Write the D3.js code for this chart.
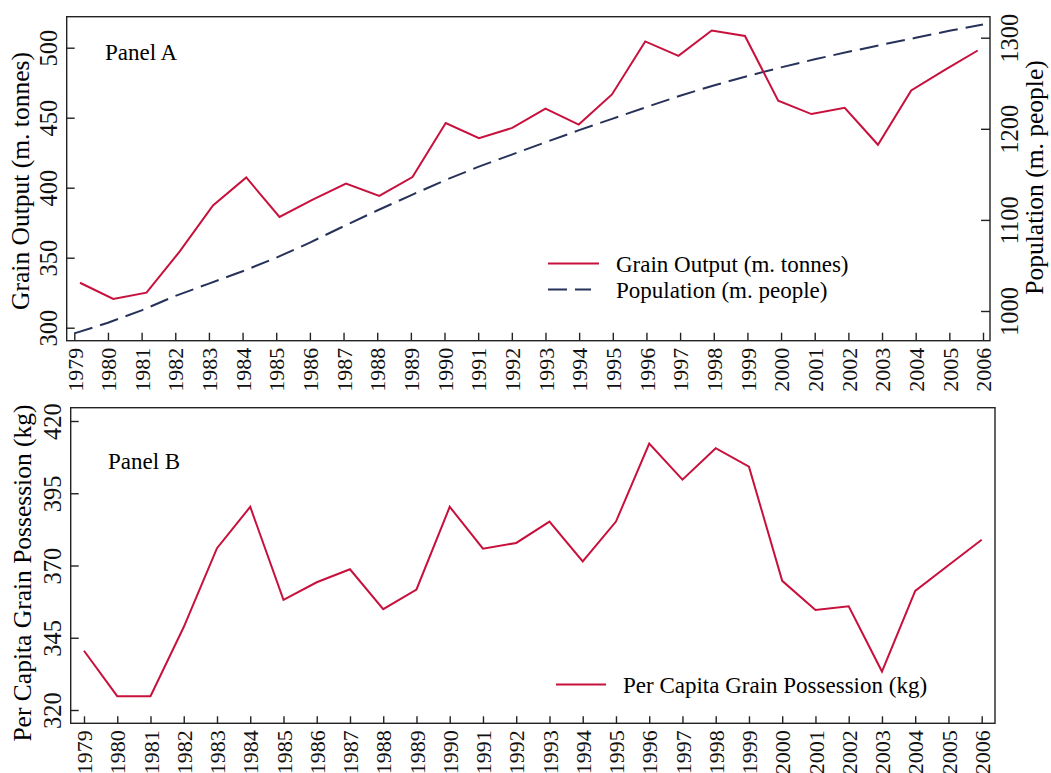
<!DOCTYPE html>
<html>
<head>
<meta charset="utf-8">
<script src="https://cdn.jsdelivr.net/npm/d3@7"></script>
<style>
  body { margin: 0; background: #fff; }
  svg { font-family: "Liberation Serif", "Times New Roman", serif; }
</style>
</head>
<body>
<div id="chart"></div>
<script>
var width = 1051, height = 773;

// data
var years = [1979,1980,1981,1982,1983,1984,1985,1986,1987,1988,1989,1990,1991,1992,
             1993,1994,1995,1996,1997,1998,1999,2000,2001,2002,2003,2004,2005,2006];
var grainOutput = [332.1,320.6,325.0,354.5,387.3,407.3,379.1,391.5,403.0,394.1,407.6,446.2,435.3,442.7,
                   456.5,445.1,466.6,504.5,494.2,512.3,508.4,462.2,452.6,457.1,430.7,469.5,484.0,498.0];
var population = [975.4,987.1,1000.7,1016.5,1030.1,1043.6,1058.5,1075.1,1093.0,1110.3,1127.0,1143.3,1158.2,1171.7,
                  1185.2,1198.5,1211.2,1223.9,1236.3,1247.6,1257.9,1267.4,1276.3,1284.5,1292.3,1299.9,1307.6,1314.5];
var perCapita = [340.5,324.8,324.8,348.7,376.0,390.3,358.1,364.2,368.7,354.9,361.7,390.3,375.8,377.8,
                 385.2,371.4,385.2,412.2,399.7,410.6,404.2,364.7,354.6,355.9,333.3,361.2,370.1,378.9];
var grainTicks = [300,350,400,450,500];
var popTicks = [1000,1100,1200,1300];
var perCapitaTicks = [320,345,370,395,420];

var red = "#c8103c", navy = "#26325a";

var svg = d3.select("#chart").append("svg")
    .attr("width", width).attr("height", height);

// ---------- Panel A ----------
var a = {left: 66.7, right: 990, top: 16.7, bottom: 340.7};

var xA = d3.scaleLinear().domain([1979, 2006]).range([74.3, 983]);
var xGrain = d3.scaleLinear().domain([1979, 2006]).range([80, 977.7]);
var yGrain = d3.scaleLinear().domain([300, 500]).range([327.7, 47.7]);
var yPop = d3.scaleLinear().domain([1000, 1300]).range([311, 37.7]);

svg.append("rect")
    .attr("x", a.left).attr("y", a.top)
    .attr("width", a.right - a.left).attr("height", a.bottom - a.top)
    .attr("fill", "none").attr("stroke", "#222").attr("stroke-width", 1.4);

function styleAxis(g) {
  g.select(".domain").remove();
  g.selectAll(".tick line").attr("stroke", "#222").attr("stroke-width", 1.4);
}

function yLabels(offset) {
  return g => g.selectAll(".tick text")
      .attr("x", 0).attr("y", offset).attr("dy", 0)
      .attr("transform", "rotate(-90)")
      .attr("text-anchor", "middle")
      .attr("font-size", 24.5).attr("fill", "#111")
      .attr("font-family", "Liberation Serif");
}

// left axis
svg.append("g")
    .attr("transform", "translate(" + a.left + ",0)")
    .call(d3.axisLeft(yGrain).tickValues(grainTicks).tickFormat(d3.format("d")).tickSize(-8))
    .call(styleAxis)
    .call(yLabels(-9.5));

// right axis
svg.append("g")
    .attr("transform", "translate(" + a.right + ",0)")
    .call(d3.axisRight(yPop).tickValues(popTicks).tickFormat(d3.format("d")).tickSize(-9))
    .call(styleAxis)
    .call(yLabels(27.5));

function yearAxis(g) {
  g.call(styleAxis);
  g.selectAll(".tick text")
      .attr("x", -7).attr("y", 0).attr("dy", "0.35em")
      .attr("transform", "rotate(-90)")
      .attr("text-anchor", "end")
      .attr("font-size", 22).attr("fill", "#111")
      .attr("font-family", "Liberation Serif");
}

svg.append("g")
    .attr("transform", "translate(0," + a.bottom + ")")
    .call(d3.axisBottom(xA).tickValues(years).tickFormat(d3.format("d")).tickSize(-8))
    .call(yearAxis);

// lines
var grainLine = d3.line()
    .x((d, i) => xGrain(years[i]))
    .y(d => yGrain(d));
var popLine = d3.line()
    .x((d, i) => xA(years[i]))
    .y(d => yPop(d));

svg.append("path").datum(population)
    .attr("d", popLine).attr("fill", "none")
    .attr("stroke", navy).attr("stroke-width", 2)
    .attr("stroke-dasharray", "19,8");

svg.append("path").datum(grainOutput)
    .attr("d", grainLine).attr("fill", "none")
    .attr("stroke", red).attr("stroke-width", 2);

svg.append("text").attr("x", 105).attr("y", 60)
    .attr("font-size", 23).text("Panel A");

// axis titles
svg.append("text")
    .attr("transform", "translate(29,181) rotate(-90)")
    .attr("text-anchor", "middle").attr("font-size", 25.5)
    .text("Grain Output (m. tonnes)");
svg.append("text")
    .attr("transform", "translate(1043,177.5) rotate(-90)")
    .attr("text-anchor", "middle").attr("font-size", 25.5)
    .text("Population (m. people)");

// legend A
var legA = svg.append("g");
legA.append("line").attr("x1", 548).attr("x2", 599).attr("y1", 263.5).attr("y2", 263.5)
    .attr("stroke", red).attr("stroke-width", 2);
legA.append("text").attr("x", 616).attr("y", 271.5).attr("font-size", 23)
    .text("Grain Output (m. tonnes)");
legA.append("line").attr("x1", 548).attr("x2", 591).attr("y1", 289.5).attr("y2", 289.5)
    .attr("stroke", navy).attr("stroke-width", 2).attr("stroke-dasharray", "19,8");
legA.append("text").attr("x", 616).attr("y", 297.5).attr("font-size", 23)
    .text("Population (m. people)");

// ---------- Panel B ----------
var b = {left: 70.7, right: 995, top: 407.7, bottom: 723.3};
var xB = d3.scaleLinear().domain([1979, 2006]).range([84, 981.7]);
var yB = d3.scaleLinear().domain([320, 420]).range([710, 421]);

svg.append("rect")
    .attr("x", b.left).attr("y", b.top)
    .attr("width", b.right - b.left).attr("height", b.bottom - b.top)
    .attr("fill", "none").attr("stroke", "#222").attr("stroke-width", 1.4);

svg.append("g")
    .attr("transform", "translate(" + b.left + ",0)")
    .call(d3.axisLeft(yB).tickValues(perCapitaTicks).tickFormat(d3.format("d")).tickSize(-8))
    .call(styleAxis)
    .call(yLabels(-9.5));

svg.append("g")
    .attr("transform", "translate(0," + b.bottom + ")")
    .call(d3.axisBottom(xB).tickValues(years).tickFormat(d3.format("d")).tickSize(-7))
    .call(yearAxis);

var pcLine = d3.line()
    .x((d, i) => xB(years[i]))
    .y(d => yB(d));
svg.append("path").datum(perCapita)
    .attr("d", pcLine).attr("fill", "none")
    .attr("stroke", red).attr("stroke-width", 2);

svg.append("text").attr("x", 108).attr("y", 468.5)
    .attr("font-size", 23).text("Panel B");

svg.append("text")
    .attr("transform", "translate(30.5,573) rotate(-90)")
    .attr("text-anchor", "middle").attr("font-size", 25.5)
    .text("Per Capita Grain Possession (kg)");

var legB = svg.append("g");
legB.append("line").attr("x1", 556).attr("x2", 606).attr("y1", 684.5).attr("y2", 684.5)
    .attr("stroke", red).attr("stroke-width", 2);
legB.append("text").attr("x", 623).attr("y", 692.5).attr("font-size", 23)
    .text("Per Capita Grain Possession (kg)");
</script>
</body>
</html>
